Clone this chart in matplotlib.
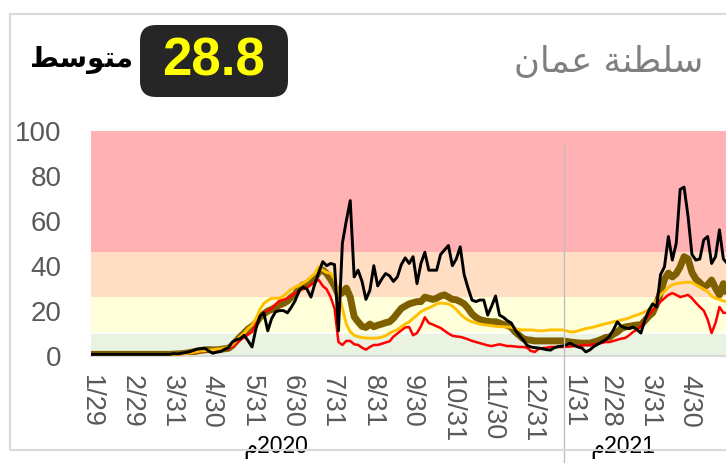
import pandas as pd
import matplotlib
matplotlib.use("Agg")
import matplotlib.pyplot as plt
from matplotlib.patches import FancyBboxPatch, Rectangle
import matplotlib.transforms as mtransforms

# daily series, one value every 3 days from 29 Jan 2020
dates = pd.date_range("2020-01-29", periods=163, freq="3D")

daily = [0.5, 0.5, 0.5, 0.5, 0.5, 0.5, 0.5, 0.5, 0.5, 0.5,
         0.5, 0.5, 0.5, 0.5, 0.5, 0.5, 0.5, 0.5, 0.5, 0.5,
         0.5, 0.8, 0.7, 1.0, 1.3, 1.6, 2.2, 2.8, 3.0, 3.2,
         2.0, 1.0, 1.5, 1.8, 2.8, 3.5, 6.0, 7.0, 7.5, 9.0,
         6.5, 3.8, 12, 17.5, 19, 11, 16.5, 19.5, 20, 20,
         19, 21.5, 24.5, 29, 30.5, 29.5, 26, 32, 37, 41.8,
         40, 41, 40.5, 11, 50, 60, 69, 35, 38, 33,
         25, 29, 40, 31, 34, 36.5, 35.5, 33, 35, 40.5,
         43.5, 41, 44, 32, 41, 46, 38, 38, 38, 45,
         47, 49, 40, 43, 48.4, 36, 30, 24.7, 24, 24.7,
         24.7, 18, 22, 26.5, 18, 17, 15.5, 14.5, 11.4, 9,
         7, 4.5, 3.8, 3.5, 3.3, 3, 2.6, 2.4, 3.5, 4,
         4.2, 4.7, 5.5, 4.5, 3.8, 3.3, 1.6, 2.5, 4, 5,
         6, 7, 8.5, 11.4, 15, 13, 12.3, 12, 12.7, 11.5,
         10, 15.8, 20, 23, 21.6, 36, 39.5, 53, 42.5, 50,
         74, 75, 62, 45, 42.5, 43, 51.5, 53, 41, 44,
         56, 43, 41]

avg7 = [0.5, 0.5, 0.5, 0.5, 0.5, 0.5, 0.5, 0.5, 0.5, 0.5,
        0.5, 0.5, 0.5, 0.5, 0.5, 0.5, 0.5, 0.5, 0.5, 0.5,
        0.5, 0.6, 0.7, 0.8, 1.0, 1.3, 1.6, 2.0, 2.3, 2.5,
        2.6, 2.5, 2.5, 2.7, 3.0, 3.2, 4.5, 6.5, 8.4, 10,
        11.8, 13, 14.5, 17, 18.5, 19.8, 20.5, 21.5, 22.5, 23.2,
        24.2, 26, 27.2, 30, 31.5, 32, 33.5, 34.5, 37.3, 38,
        36.5, 34, 31, 27, 28, 30, 26, 17.3, 15, 13,
        12.5, 14, 12.8, 13.5, 14, 14.6, 15, 16.6, 18.8, 21,
        22, 23, 23.5, 24, 24, 26, 25.5, 25, 25.5, 26.5,
        27, 26, 25, 24.8, 24, 23, 21, 18.5, 17, 16,
        15.5, 15.2, 15, 15, 14.5, 13.8, 13.5, 12.5, 10.5, 9,
        7.5, 7, 6.8, 6.5, 6.5, 6.5, 6.5, 6.5, 6.5, 6.5,
        6.5, 6.3, 6.0, 5.8, 5.6, 5.5, 5.5, 5.5, 6, 6.5,
        7.2, 8, 8.2, 9.5, 10.5, 12, 12.7, 13, 13.3, 13.6,
        13.6, 15.5, 17.5, 19, 23, 28, 34, 36.7, 35, 36.5,
        39.5, 44, 43, 37, 34, 32.5, 30.5, 31.5, 33.6, 30,
        27, 32, 27]

gold = [0.2, 0.2, 0.2, 0.2, 0.2, 0.2, 0.2, 0.2, 0.2, 0.2,
        0.2, 0.2, 0.2, 0.2, 0.2, 0.2, 0.2, 0.2, 0.2, 0.2,
        0.3, 0.4, 0.5, 0.7, 0.9, 1.1, 1.4, 1.7, 2.0, 2.2,
        2.4, 2.6, 2.8, 3.0, 3.3, 3.7, 4.8, 6.8, 8.4, 10,
        12, 13.5, 16.5, 20.5, 23.2, 24.5, 25.5, 25.5, 25.5, 26.5,
        28, 29.5, 30.5, 31.2, 32.3, 33.3, 35, 36.5, 39.5, 38,
        37, 36.6, 34, 28, 21, 14, 10.6, 9, 8.4, 8,
        7.8, 7.7, 7.7, 7.8, 8.2, 8.8, 9.9, 10.8, 11.5, 12.8,
        14, 15, 16.5, 18, 19.5, 20.5, 21.2, 22, 23, 23.4,
        23.2, 23, 22, 20.5, 18.5, 17, 15.8, 15, 14.5, 14,
        13.7, 13.5, 13.3, 13, 12.9, 12.8, 12.7, 12.6, 12, 11.5,
        11.4, 11.4, 11.4, 11.2, 11, 11, 11.2, 11.4, 11.4, 11.4,
        11.4, 11, 10.5, 10.5, 11, 11.5, 12, 12.3, 12.7, 13.2,
        13.7, 14.2, 14.5, 15, 15.3, 15.8, 16.2, 16.7, 17.5, 18,
        18.7, 19.4, 20.5, 22, 24.5, 27, 28.5, 30.5, 31.5, 32,
        32.3, 32.5, 32.7, 32.5, 31.5, 30.5, 29.5, 28.5, 26.5, 25.5,
        25, 24.3, 24]

red = [0.2, 0.2, 0.2, 0.2, 0.2, 0.2, 0.2, 0.2, 0.2, 0.2,
       0.2, 0.2, 0.2, 0.2, 0.2, 0.2, 0.2, 0.2, 0.2, 0.2,
       0.3, 0.4, 0.5, 0.6, 0.8, 1.0, 1.2, 1.5, 1.8, 2.0,
       2.2, 2.3, 2.5, 2.7, 2.9, 3.1, 3.8, 5.3, 6.9, 8.1,
       9.3, 10.5, 15, 17.5, 18.8, 20, 21, 22.8, 24.5, 24.8,
       25.5, 26.5, 27.8, 29, 29.6, 30.2, 31.5, 32.8, 33.6, 31,
       29.5, 26, 21, 6, 4.7, 6.5, 6.5, 5, 4.7, 3.5,
       2.6, 3.8, 4.7, 4.7, 5.2, 5.8, 6.3, 8.4, 9.8, 11.2,
       12.5, 12.7, 9, 10, 13, 17, 14.5, 13.8, 13, 12.3,
       11, 9.8, 8.8, 8.5, 8.3, 7.8, 7.2, 6.5, 6, 5.5,
       5, 4.5, 4.2, 4.6, 5, 4.6, 4.2, 4.2, 4.0, 3.8,
       3.8, 3.5, 2.0, 1.6, 3.0, 3.3, 3.5, 3.8, 3.8, 3.8,
       3.8, 3.9, 4.0, 4.2, 4.3, 4.5, 4.7, 4.7, 5, 5.2,
       5.6, 6, 6, 6.5, 7, 7.5, 7.8, 9, 10.5, 11.4,
       13, 15.8, 18, 20, 22, 24, 25.5, 27, 27.8, 27,
       26, 26.5, 27, 25.5, 23.5, 21.6, 20, 16, 10, 14.5,
       21.6, 19, 19]

# background bands
band_edges = [0, 10, 26, 46, 100]
band_colors = ["#EAF3E1", "#FFFFD9", "#FFDEC3", "#FFB1B4"]

tick_dates = ["2020-01-29", "2020-02-29", "2020-03-31", "2020-04-30", "2020-05-31",
              "2020-06-30", "2020-07-31", "2020-08-31", "2020-09-30", "2020-10-31",
              "2020-11-30", "2020-12-31", "2021-01-31", "2021-02-28", "2021-03-31",
              "2021-04-30"]
tick_labels = ["1/29", "2/29", "3/31", "4/30", "5/31", "6/30", "7/31", "8/31",
               "9/30", "10/31", "11/30", "12/31", "1/31", "2/28", "3/31", "4/30"]

year_split = pd.Timestamp("2021-01-24")
year_labels = ["\uFEE12020", "\uFEE12021"]
year_pos = [pd.Timestamp("2020-06-18"), pd.Timestamp("2021-03-10")]

title = "\uFEE5\uFE8E\uFEE4\uFECB \uFE94\uFEE8\uFEC4\uFEE0\uFEB3"   # سلطنة عمان
mean_word = "\uFEC2\uFEB3\uFEEE\uFE98\uFEE3"                          # متوسط
mean_value = 28.8

plt.rcParams['font.family'] = ['Liberation Sans', 'DejaVu Sans']

fig = plt.figure(figsize=(7.26, 4.63), dpi=100)
ax = fig.add_axes([91 / 726, 107.5 / 463, 635 / 726, 224.5 / 463])

for lo, hi, c in zip(band_edges[:-1], band_edges[1:], band_colors):
    ax.axhspan(lo, hi, color=c, lw=0, zorder=0)
ax.axhline(band_edges[1], color="white", lw=1.2, zorder=0.5)

ax.plot(dates, avg7, color="#7F6000", lw=5, zorder=2, solid_capstyle="butt")
ax.plot(dates, red, color="#FF0000", lw=1.8, zorder=3)
ax.plot(dates, gold, color="#FFC000", lw=2.1, zorder=4)
ax.plot(dates, daily, color="black", lw=2.1, zorder=5)

ax.set_ylim(0, 100)
ax.set_xlim(dates[0], dates[0] + pd.Timedelta(days=485))
ax.set_yticks([0, 20, 40, 60, 80, 100])
ax.set_xticks(pd.to_datetime(tick_dates))
ax.set_xticklabels(tick_labels, rotation=-90, ha="center", va="top")
ax.tick_params(axis="x", length=0, pad=14, labelsize=19.5, labelcolor="#595959")
ax.tick_params(axis="y", length=0, pad=21, labelsize=20, labelcolor="#595959")
for s in ["top", "right", "left"]:
    ax.spines[s].set_visible(False)
ax.spines["bottom"].set_color("#D9D9D9")
ax.spines["bottom"].set_linewidth(1.5)

# year separator and year labels
ax.axvline(year_split, ymin=-0.48, ymax=0.933, clip_on=False, color="#BFBFBF", lw=1, zorder=6)
trans = mtransforms.blended_transform_factory(ax.transData, ax.transAxes)
for lab, pos in zip(year_labels, year_pos):
    ax.text(pos, -0.434, lab, transform=trans, ha="center", va="baseline",
            fontsize=16.5, color="black", clip_on=False)

# outer frame
fig.add_artist(Rectangle((10 / 726, 1 - 450 / 463), 1.2, 436 / 463,
                         transform=fig.transFigure, fill=False,
                         ec="#D9D9D9", lw=1.5))

# header
fig.text(703 / 726, 1 - 62 / 463, title, ha="right", va="center",
         fontsize=25.5, color="#7F7F7F", family="DejaVu Sans")
box = FancyBboxPatch((140 / 726, 1 - 97 / 463), 148 / 726, 72 / 463,
                     boxstyle="round,pad=0,rounding_size=0.022",
                     transform=fig.transFigure, fc="#262626", ec="none",
                     mutation_aspect=726 / 463)
fig.add_artist(box)
fig.text(214 / 726, 1 - 62 / 463, f"{mean_value}", ha="center", va="center",
         fontsize=38, color="#FFFF00", weight="bold",
         family=["Liberation Sans Narrow", "Liberation Sans"])
fig.text(133 / 726, 1 - 60 / 463, mean_word, ha="right", va="center",
         fontsize=20, color="black", weight="bold", family="DejaVu Sans")

fig.savefig("out.png", dpi=100)
